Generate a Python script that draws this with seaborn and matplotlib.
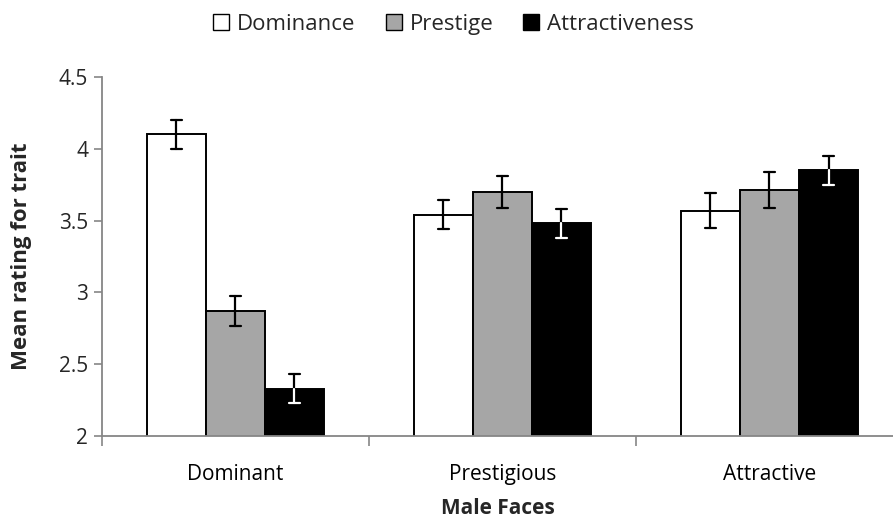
import numpy as np
import pandas as pd
import matplotlib
matplotlib.use("Agg")
import matplotlib.pyplot as plt
import seaborn as sns
from matplotlib.patches import Patch
from matplotlib.ticker import FixedLocator, NullFormatter

# Mean ratings (and standard errors) for each trait, by face type
faces = ["Dominant", "Prestigious", "Attractive"]
traits = ["Dominance", "Prestige", "Attractiveness"]
dominance_mean = [4.10, 3.54, 3.57]
prestige_mean = [2.87, 3.70, 3.71]
attract_mean = [2.33, 3.48, 3.85]
dominance_err = [0.10, 0.10, 0.125]
prestige_err = [0.105, 0.11, 0.125]
attract_err = [0.10, 0.10, 0.10]

colors = ["#FFFFFF", "#A6A6A6", "#000000"]

df = pd.DataFrame({
    "face": faces * 3,
    "trait": [t for t in traits for _ in faces],
    "mean": dominance_mean + prestige_mean + attract_mean,
    "err": dominance_err + prestige_err + attract_err,
})

sns.set_style("white")
plt.rcParams["font.family"] = ["Open Sans", "DejaVu Sans"]

fig = plt.figure(figsize=(8.93, 5.22), dpi=100)
ax = fig.add_axes([0.1142, 0.1648, 1.0 - 0.1142, 0.8525 - 0.1648])

sns.barplot(data=df, x="face", y="mean", hue="trait", order=faces,
            hue_order=traits, palette=colors, width=0.663, dodge=True,
            edgecolor="black", linewidth=1.4, errorbar=None, ax=ax,
            legend=False)

# Error bars centred on each drawn bar
bars = [p for p in ax.patches if p.get_height() > 0]
lookup = {(r.face, r.trait): r for r in df.itertuples()}
for ti, trait in enumerate(traits):
    for fi, face in enumerate(faces):
        bar = bars[ti * len(faces) + fi]
        row = lookup[(face, trait)]
        xc = bar.get_x() + bar.get_width() / 2
        top = row.mean
        lo, hi = row.mean - row.err, row.mean + row.err
        cw = 0.02
        lw = 1.6
        # whisker above the bar top is black
        ax.plot([xc, xc], [top, hi], color="black", lw=lw, zorder=5)
        ax.plot([xc - cw, xc + cw], [hi, hi], color="black", lw=lw, zorder=5)
        # whisker inside a black bar is drawn white so it stays visible
        inner = "white" if trait == "Attractiveness" else "black"
        ax.plot([xc, xc], [lo, top], color=inner, lw=lw, zorder=5)
        ax.plot([xc - cw, xc + cw], [lo, lo], color=inner, lw=lw, zorder=5)

ax.set_ylim(2, 4.5)
ax.set_yticks(np.arange(2, 4.51, 0.5))
ax.set_yticklabels(["2", "2.5", "3", "3.5", "4", "4.5"])
ax.set_xlim(-0.5, 2.5 - 10 / 267)

ax.xaxis.set_minor_locator(FixedLocator([-0.5, 0.5, 1.5, 2.5]))
ax.xaxis.set_minor_formatter(NullFormatter())
ax.tick_params(axis="x", which="major", length=0, labelsize=15, pad=20,
               colors="black")
ax.tick_params(axis="x", which="minor", length=7, width=1.2, color="#868686",
               direction="out", bottom=True)
ax.tick_params(axis="y", which="major", length=6, width=1.2, color="#868686",
               direction="out", left=True, labelsize=15, pad=4)

for side in ["top", "right"]:
    ax.spines[side].set_visible(False)
for side in ["left", "bottom"]:
    ax.spines[side].set_color("#868686")
    ax.spines[side].set_linewidth(1.3)

ax.set_xlabel("Male Faces", fontsize=15, fontweight="bold")
ax.xaxis.set_label_coords(0.5, -0.172)
ax.set_ylabel("Mean rating for trait", fontsize=16, fontweight="bold")
ax.yaxis.set_label_coords(-0.088, 0.5)

handles = [Patch(facecolor=c, edgecolor="black", linewidth=1.0) for c in colors]
fig.legend(handles, traits, loc="upper center", bbox_to_anchor=(0.508, 1.012),
           ncol=3, frameon=False, fontsize=16, handlelength=0.72,
           handleheight=0.72, handletextpad=0.35, columnspacing=1.35)

fig.savefig("out.png", dpi=100)
